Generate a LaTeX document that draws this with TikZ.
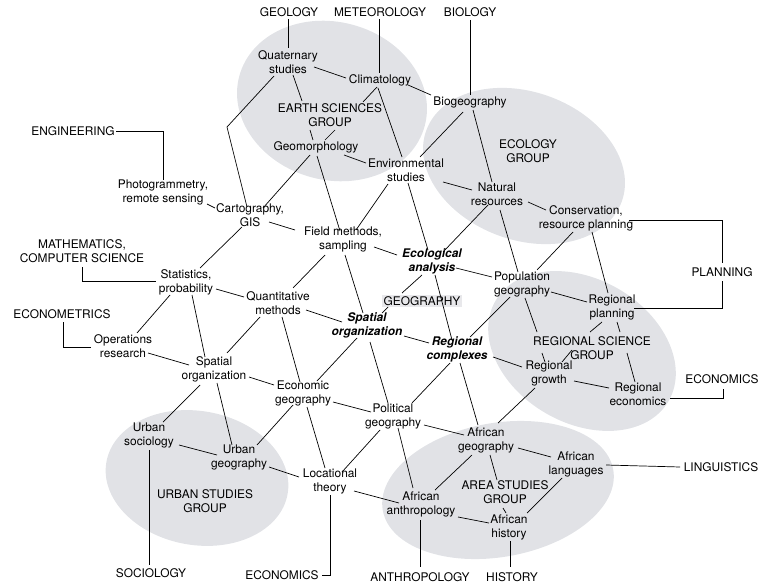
\documentclass[tikz,border=0pt]{standalone}
\usepackage{fontspec}
\setmainfont{TeX Gyre Heros}
\usetikzlibrary{calc}
\definecolor{blob}{RGB}{225,226,230}
\definecolor{hilite}{RGB}{232,232,235}
\tikzset{
  lab/.style={font=\fontsize{11.9}{14}\selectfont, align=center, inner sep=0pt, text=black},
  bilab/.style={lab, font=\fontsize{11.9}{14}\selectfont\bfseries\itshape},
  ln/.style={draw=black, line width=0.7pt},
  blobfill/.style={fill=blob},
}
\newcommand\lk[4]{\draw[ln] ([shift={#2}]#1.center) -- ([shift={#4}]#3.center);}
\begin{document}
\begin{tikzpicture}[x=1pt,y=-1pt]
\useasboundingbox (0,0) rectangle (759,585);
% group ellipses
\fill[blobfill, rotate around={-15:(332,101)}] (332,101) ellipse [x radius=96pt, y radius=79pt];
\fill[blobfill, rotate around={-20:(524,166)}] (524,166) ellipse [x radius=104pt, y radius=74pt];
\fill[blobfill, rotate around={-30:(582,351)}] (582,351) ellipse [x radius=100pt, y radius=72pt];
\fill[blobfill, rotate around={10:(498,490)}] (498,490) ellipse [x radius=117pt, y radius=67pt];
\fill[blobfill, rotate around={-10:(197,478)}] (197,478) ellipse [x radius=92pt, y radius=67pt];

% nodes
\node[lab] (geo) at (289,12) {GEOLOGY};
\node[lab] (met) at (380,12) {METEOROLOGY};
\node[lab] (bio) at (470,12) {BIOLOGY};
\node[lab] (qua) at (288,62) {Quaternary\\studies};
\node[lab] (cli) at (380,80) {Climatology};
\node[lab] (big) at (470,102) {Biogeography};
\node[lab] (esg) at (330,115) {EARTH SCIENCES\\GROUP};
\node[lab] (gmo) at (316,147) {Geomorphology};
\node[lab] (env) at (406,170) {Environmental\\studies};
\node[lab] (ecg) at (528,151) {ECOLOGY\\GROUP};
\node[lab] (nat) at (497,194) {Natural\\resources};
\node[lab] (eng) at (73,131) {ENGINEERING};
\node[lab] (pho) at (163,192) {Photogrammetry,\\remote sensing};
\node[lab] (car) at (250,215) {Cartography,\\GIS};
\node[lab] (fie) at (343,239) {Field methods,\\sampling};
\node[lab] (con) at (586,218) {Conservation,\\resource planning};
\node[lab] (mat) at (82,251) {MATHEMATICS,\\COMPUTER SCIENCE};
\node[lab] (sta) at (186,282) {Statistics,\\probability};
\node[bilab] (eco) at (432,261) {Ecological\\analysis};
\node[lab] (pop) at (522,284) {Population\\geography};
\node[lab] (pla) at (722,272) {PLANNING};
\node[lab] (qnt) at (278,303) {Quantitative\\methods};
\node[lab, fill=hilite, inner sep=1.5pt] (gg) at (422,301) {GEOGRAPHY};
\node[lab] (rpl) at (612,307) {Regional\\planning};
\node[lab] (ecm) at (62,314) {ECONOMETRICS};
\node[bilab] (spb) at (367,325) {Spatial\\organization};
\node[lab] (ops) at (123,346) {Operations\\research};
\node[bilab] (rco) at (457,349) {Regional\\complexes};
\node[lab] (rsg) at (592,348) {REGIONAL SCIENCE\\GROUP};
\node[lab] (rgr) at (549,373) {Regional\\growth};
\node[lab] (spr) at (214,369) {Spatial\\organization};
\node[lab] (egg) at (303,393) {Economic\\geography};
\node[lab] (rec) at (638,394) {Regional\\economics};
\node[lab] (ecr) at (722,379) {ECONOMICS};
\node[lab] (pol) at (393,416) {Political\\geography};
\node[lab] (uso) at (149,435) {Urban\\sociology};
\node[lab] (afg) at (486,440) {African\\geography};
\node[lab] (ugg) at (239,457) {Urban\\geography};
\node[lab] (afl) at (576,464) {African\\languages};
\node[lab] (lin) at (721,467) {LINGUISTICS};
\node[lab] (loc) at (330,481) {Locational\\theory};
\node[lab] (asg) at (505,492) {AREA STUDIES\\GROUP};
\node[lab] (usg) at (205,501) {URBAN STUDIES\\GROUP};
\node[lab] (afa) at (421,504) {African\\anthropology};
\node[lab] (afh) at (509,527) {African\\history};
\node[lab] (soc) at (151,573) {SOCIOLOGY};
\node[lab] (ecb) at (282,575) {ECONOMICS};
\node[lab] (ant) at (420,577) {ANTHROPOLOGY};
\node[lab] (his) at (512,577) {HISTORY};

% connectors from the parent disciplines
\lk{geo}{(-1,7)}{qua}{(0,-14)}
\lk{met}{(-1,7)}{cli}{(-1,-7)}
\lk{bio}{(0,8)}{big}{(0,-7)}
\draw[ln] ([shift={(43,0)}]eng.center) -| ([shift={(0,-12)}]pho.center);
\draw[ln] ([shift={(0,16)}]mat.center) |- ([shift={(-30,-1)}]sta.center);
\draw[ln] ([shift={(1,8)}]ecm.center) |- ([shift={(-32,1)}]ops.center);
\draw[ln] ([shift={(43,2)}]con.center) -| ([shift={(0,-9)}]pla.center);
\draw[ln] ([shift={(0,9)}]pla.center) |- ([shift={(22,1)}]rpl.center);
\draw[ln] ([shift={(32,4)}]rec.center) -| ([shift={(1,10)}]ecr.center);
\lk{afl}{(30,1)}{lin}{(-41,0)}
\lk{uso}{(0,15)}{soc}{(-2,-8)}
\draw[ln] ([shift={(0,14)}]loc.center) |- ([shift={(40,0)}]ecb.center);
\lk{afa}{(-1,16)}{ant}{(0,-10)}
\lk{afh}{(1,14)}{his}{(-2,-10)}

% lattice
\lk{qua}{(26,5)}{cli}{(-34,-2)}
\lk{cli}{(28,5)}{big}{(-39,-7)}
\lk{qua}{(5,13)}{esg}{(-28,-14)}
\lk{cli}{(-3,7)}{esg}{(33,-13)}
\lk{esg}{(-20,15)}{gmo}{(-3,-7)}
\lk{esg}{(5,15)}{gmo}{(9,-7)}
\coordinate (qbend) at (227,127);
\draw[ln] ([shift={(-14,14)}]qua.center) -- (qbend) -- ([shift={(-3,-8)}]car.center);
\lk{cli}{(-2,8)}{env}{(-4,-13)}
\lk{env}{(2,13)}{eco}{(-4,-11)}
\lk{big}{(-7,10)}{env}{(14,-13)}
\lk{big}{(3,8)}{nat}{(-5,-12)}
\lk{gmo}{(28,8)}{env}{(-40,-7)}
\lk{gmo}{(-6,8)}{car}{(13,-7)}
\lk{gmo}{(1,9)}{fie}{(-3,-8)}
\lk{env}{(37,12)}{nat}{(-25,-4)}
\lk{env}{(-18,14)}{fie}{(13,-9)}
\lk{nat}{(31,8)}{con}{(-40,-8)}
\lk{nat}{(-9,11)}{eco}{(11,-9)}
\lk{nat}{(3,16)}{pop}{(-4,-12)}
\lk{con}{(-13,14)}{pop}{(15,-14)}
\lk{con}{(6,14)}{rpl}{(-4,-14)}
\lk{pho}{(44,12)}{car}{(-35,-7)}
\lk{car}{(19,7)}{fie}{(-48,-9)}
\lk{car}{(-8,12)}{sta}{(14,-14)}
\lk{sta}{(-16,13)}{ops}{(14,-13)}
\lk{sta}{(30,7)}{qnt}{(-34,-6)}
\lk{sta}{(6,13)}{spr}{(-9,-12)}
\lk{qnt}{(15,-15)}{fie}{(-18,16)}
\lk{qnt}{(28,7)}{spb}{(-25,-3)}
\lk{qnt}{(4,14)}{egg}{(-3,-11)}
\lk{qnt}{(-18,14)}{spr}{(13,-16)}
\lk{ops}{(25,7)}{spr}{(-25,-4)}
\lk{spr}{(35,8)}{egg}{(-29,-8)}
\lk{spr}{(-14,16)}{uso}{(14,-13)}
\lk{spr}{(3,14)}{ugg}{(-7,-12)}
\lk{uso}{(30,10)}{ugg}{(-22,-2)}
\lk{ugg}{(18,-12)}{egg}{(-10,12)}
\lk{ugg}{(30,10)}{loc}{(-31,-4)}
\lk{egg}{(4,14)}{loc}{(-5,-13)}
\lk{loc}{(12,-9)}{pol}{(-13,14)}
\lk{loc}{(24,10)}{afa}{(-22,-1)}
\lk{egg}{(30,9)}{pol}{(-22,-4)}
\lk{egg}{(14,-12)}{spb}{(-10,13)}
\lk{spb}{(3,17)}{pol}{(-5,-13)}
\lk{pol}{(19,-13)}{rco}{(-7,14)}
\lk{pol}{(31,9)}{afg}{(-22,-5)}
\lk{pol}{(5,12)}{afa}{(-8,-16)}
\lk{fie}{(2,16)}{spb}{(-4,-12)}
\lk{spb}{(15,-12)}{gg}{(-34,6)}
\lk{gg}{(-20,-8)}{eco}{(-10,14)}
\lk{spb}{(37,11)}{rco}{(-28,-6)}
\lk{fie}{(31,8)}{eco}{(-35,-6)}
\lk{eco}{(24,7)}{pop}{(-30,-7)}
\lk{eco}{(3,14)}{rco}{(-5,-9)}
\lk{pop}{(29,8)}{rpl}{(-25,-5)}
\lk{pop}{(-12,13)}{rco}{(13,-12)}
\lk{pop}{(3,14)}{rsg}{(-55,-16)}
\lk{rsg}{(-50,5)}{rgr}{(-4,-11)}
\lk{rpl}{(-10,15)}{rsg}{(-2,-16)}
\lk{rsg}{(-20,2)}{rgr}{(13,-11)}
\lk{rpl}{(5,15)}{rsg}{(28,-16)}
\lk{rsg}{(35,5)}{rec}{(-3,-12)}
\lk{rco}{(36,8)}{rgr}{(-27,-6)}
\lk{rco}{(3,14)}{afg}{(-8,-15)}
\lk{rgr}{(25,8)}{rec}{(-29,-6)}
\lk{rgr}{(-14,15)}{afg}{(12,-17)}
\lk{afg}{(32,8)}{afl}{(-25,-7)}
\lk{afg}{(-14,15)}{afa}{(14,-14)}
\lk{afg}{(4,15)}{asg}{(-8,-12)}
\lk{asg}{(-2,16)}{afh}{(-3,-14)}
\lk{afl}{(-14,14)}{afh}{(18,-14)}
\lk{afa}{(37,13)}{afh}{(-20,-4)}
\end{tikzpicture}
\end{document}
